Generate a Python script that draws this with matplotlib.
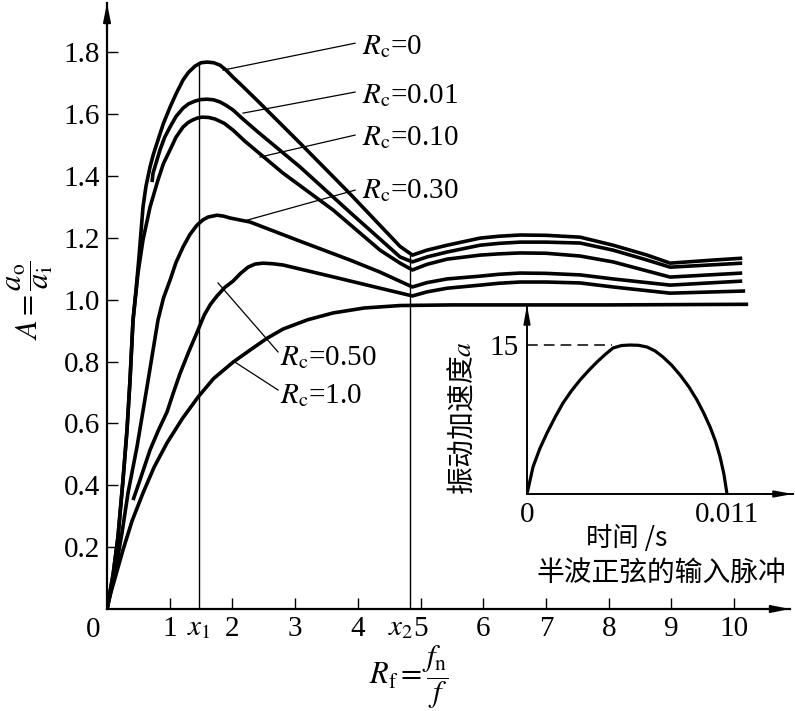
import numpy as np
import matplotlib
matplotlib.use('Agg')
import matplotlib.pyplot as plt

plt.rcParams['font.family'] = ['Liberation Serif', 'Noto Sans CJK SC']
plt.rcParams['mathtext.fontset'] = 'stix'

# response curves: Rf (x) -> A (y)
rc0_x = [0, 0.096, 0.175, 0.255, 0.319, 0.367, 0.415, 0.463, 0.510, 0.574, 0.62, 0.686, 0.74, 0.813, 0.90,
         1.005, 1.10, 1.212, 1.30, 1.404, 1.50, 1.595, 1.70, 1.802, 1.90, 2.010, 2.121, 2.40, 3.078, 3.876,
         4.354, 4.673, 4.87, 5.10, 5.423, 5.949, 6.25, 6.587, 7.00, 7.544, 8.070, 8.612, 8.979, 9.665, 10.128]
rc0_y = [0, 0.110, 0.233, 0.417, 0.579, 0.740, 0.934, 1.031, 1.138, 1.299, 1.365, 1.429, 1.47, 1.516, 1.57,
         1.622, 1.665, 1.710, 1.735, 1.755, 1.766, 1.768, 1.766, 1.758, 1.742, 1.719, 1.698, 1.643, 1.506, 1.342,
         1.240, 1.172, 1.144, 1.160, 1.176, 1.199, 1.205, 1.209, 1.208, 1.202, 1.176, 1.144, 1.118, 1.128, 1.134]

rc001_x = [0.718, 0.734, 0.845, 0.92, 1.005, 1.10, 1.212, 1.30, 1.404, 1.50, 1.595, 1.70, 1.802, 1.90, 2.010,
           2.15, 2.40, 3.078, 3.876, 4.673, 4.87, 5.10, 5.423, 5.949, 6.25, 6.587, 7.00, 7.544, 8.070, 8.612,
           8.979, 10.128]
rc001_y = [1.380, 1.409, 1.484, 1.525, 1.558, 1.592, 1.619, 1.633, 1.642, 1.647, 1.648, 1.646, 1.639, 1.628,
           1.613, 1.587, 1.543, 1.429, 1.282, 1.138, 1.122, 1.138, 1.154, 1.176, 1.182, 1.186, 1.186, 1.183,
           1.160, 1.128, 1.105, 1.118]

rc010_x = [0, 0.096, 0.175, 0.255, 0.319, 0.367, 0.415, 0.494, 0.574, 0.686, 0.813, 0.90, 1.005, 1.10, 1.212,
           1.29, 1.356, 1.44, 1.515, 1.62, 1.722, 1.87, 2.010, 2.20, 2.807, 3.604, 4.354, 4.673, 4.87,
           5.10, 5.423, 5.949, 6.25, 6.587, 7.00, 7.544, 8.070, 8.979, 10.128]
rc010_y = [0, 0.110, 0.233, 0.417, 0.579, 0.740, 0.934, 1.086, 1.193, 1.299, 1.387, 1.44, 1.484, 1.525, 1.558,
           1.572, 1.580, 1.587, 1.590, 1.589, 1.584, 1.570, 1.548, 1.512, 1.409, 1.290, 1.160, 1.118, 1.096,
           1.114, 1.131, 1.144, 1.148, 1.151, 1.150, 1.141, 1.122, 1.073, 1.086]

rc030_x = [0, 0.128, 0.239, 0.335, 0.478, 0.638, 0.813, 0.90, 1.005, 1.10, 1.212, 1.32, 1.435, 1.53, 1.611,
           1.754, 1.86, 1.962, 2.281, 3.078, 3.876, 4.354, 4.87, 5.10, 5.423, 5.949, 6.25, 6.587, 7.00, 7.544,
           8.070, 8.979, 10.128]
rc030_y = [0, 0.116, 0.246, 0.375, 0.524, 0.718, 0.934, 1.005, 1.063, 1.120, 1.170, 1.210, 1.241, 1.258, 1.267,
           1.273, 1.270, 1.264, 1.251, 1.189, 1.128, 1.089, 1.041, 1.055, 1.067, 1.076, 1.082, 1.086, 1.085,
           1.080, 1.067, 1.047, 1.060]

rc050_x = [0.415, 0.526, 0.686, 0.82, 0.957, 1.06, 1.164, 1.30, 1.435, 1.55, 1.65, 1.754, 1.88, 2.010, 2.13,
           2.249, 2.36, 2.488, 2.65, 2.807, 3.557, 4.354, 4.87, 5.10, 5.423, 5.949, 6.25, 6.587, 7.00, 7.544,
           8.070, 8.979, 10.175]
rc050_y = [0.352, 0.417, 0.514, 0.578, 0.637, 0.700, 0.761, 0.830, 0.894, 0.950, 0.985, 1.012, 1.040, 1.060,
           1.085, 1.105, 1.115, 1.118, 1.116, 1.112, 1.076, 1.037, 1.012, 1.025, 1.037, 1.047, 1.053, 1.057,
           1.057, 1.054, 1.041, 1.021, 1.028]

rc100_x = [0, 0.05, 0.128, 0.255, 0.40, 0.574, 0.75, 0.957, 1.20, 1.451, 1.70, 2.010, 2.281, 2.55, 2.807,
           3.20, 3.604, 4.10, 4.673, 5.50, 6.268, 8.00, 10.223]
rc100_y = [0, 0.045, 0.100, 0.191, 0.285, 0.375, 0.458, 0.537, 0.615, 0.685, 0.745, 0.798, 0.837, 0.875,
           0.905, 0.935, 0.957, 0.973, 0.981, 0.983, 0.983, 0.983, 0.985]

curves_x = [rc0_x, rc001_x, rc010_x, rc030_x, rc050_x, rc100_x]
curves_y = [rc0_y, rc001_y, rc010_y, rc030_y, rc050_y, rc100_y]
rc_labels = ['0', '0.01', '0.10', '0.30', '0.50', '1.0']

x_ticks = [1, 2, 3, 4, 5, 6, 7, 8, 9, 10]
y_ticks = [0.2, 0.4, 0.6, 0.8, 1.0, 1.2, 1.4, 1.6, 1.8]
x_marks = [1.47, 4.83]
x_mark_tops = [1.765, 1.144]
x_mark_labels = [r'$x_1$', r'$x_2$']

# half sine input pulse (inset)
pulse_t = [0, 0.00033, 0.00070, 0.00110, 0.00155, 0.00198, 0.00245, 0.00292, 0.00340, 0.00385, 0.00430,
           0.00473, 0.00520, 0.00567, 0.00615, 0.00660, 0.00705, 0.00748, 0.00795, 0.00842, 0.00890,
           0.00935, 0.00972, 0.01007, 0.01037, 0.01062, 0.01083, 0.011]
pulse_a = [0, 2.72, 4.55, 6.14, 7.75, 9.16, 10.40, 11.48, 12.45, 13.29, 14.05, 14.70, 14.95, 15.0, 14.97,
           14.80, 14.40, 13.79, 12.98, 11.98, 10.80, 9.46, 8.15, 6.75, 5.30, 3.72, 2.00, 0]
pulse_peak = 15
pulse_end = 0.011

fig = plt.figure(figsize=(7.95, 7.11), dpi=100)
ax = fig.add_axes([107/795, 1-609/711, 683/795, 606/711])
ax.set_xlim(0, 10.89)
ax.set_ylim(0, 1.959)
for s in ['top', 'right']:
    ax.spines[s].set_visible(False)
for s in ['left', 'bottom']:
    ax.spines[s].set_linewidth(1.6)

for cx, cy in zip(curves_x, curves_y):
    ax.plot(cx, cy, color='black', lw=2.6, solid_joinstyle='round', solid_capstyle='butt')

ax.vlines(x_marks, 0, x_mark_tops, color='black', lw=1.0)

ax.set_xticks(x_ticks)
ax.set_xticklabels([str(v) for v in x_ticks])
ax.set_yticks(y_ticks)
ax.set_yticklabels(['%.1f' % v for v in y_ticks])
ax.tick_params(direction='in', length=8, width=1.0, labelsize=21, pad=5)

ax.annotate('0', xy=(0, 0), xytext=(-14, -8), textcoords='offset pixels',
            ha='center', va='top', fontsize=21)
ax.annotate(x_mark_labels[0], xy=(x_marks[0], 0), xytext=(0, -6), textcoords='offset pixels',
            ha='center', va='top', fontsize=21)
ax.annotate(x_mark_labels[1], xy=(x_marks[1], 0), xytext=(3, -6), textcoords='offset pixels',
            ha='right', va='top', fontsize=21)

# axis arrows
ax.annotate('', xy=(0, 1.0), xytext=(0, 0.95), xycoords='axes fraction',
            arrowprops=dict(arrowstyle='-|>,head_length=1.1,head_width=0.22', color='black', lw=1.4,
                            shrinkA=0, shrinkB=0))
ax.annotate('', xy=(1.0, 0), xytext=(0.95, 0), xycoords='axes fraction',
            arrowprops=dict(arrowstyle='-|>,head_length=1.1,head_width=0.22', color='black', lw=1.4,
                            shrinkA=0, shrinkB=0))

# curve labels with leader lines
leader_from = [(1.850, 1.742), (2.169, 1.603), (2.440, 1.461), (2.233, 1.257), (1.770, 1.054), (2.041, 0.798)]
leader_to = [(3.955, 1.829), (3.955, 1.671), (3.955, 1.532), (3.955, 1.354), (2.727, 0.831), (2.727, 0.708)]
text_at = [(4.067, 1.826), (4.067, 1.668), (4.067, 1.532), (4.067, 1.361), (2.759, 0.821), (2.759, 0.698)]
for lab, p0, p1, tp in zip(rc_labels, leader_from, leader_to, text_at):
    ax.plot([p0[0], p1[0]], [p0[1], p1[1]], color='black', lw=0.9)
    ax.text(tp[0], tp[1], r'$R_\mathrm{c}$=' + lab, fontsize=21, ha='left', va='center_baseline')

fig.text(30/795, 1-300/711, r'$A=\dfrac{a_\mathrm{o}}{a_\mathrm{i}}$', rotation=90,
         ha='center', va='center', fontsize=22)
fig.text(409/795, 1-677/711, r'$R_\mathrm{f}=\dfrac{f_\mathrm{n}}{f}$',
         ha='center', va='center', fontsize=22)

# inset: input pulse
ax2 = fig.add_axes([527/795, 1-494/711, 266/795, 189/711])
ax2.set_facecolor('none')
ax2.set_xlim(0, 0.01463)
ax2.set_ylim(0, 19.03)
for s in ['top', 'right']:
    ax2.spines[s].set_visible(False)
for s in ['left', 'bottom']:
    ax2.spines[s].set_linewidth(1.4)
ax2.plot(pulse_t, pulse_a, color='black', lw=2.3, solid_joinstyle='round')
ax2.plot([0, 0.0047], [pulse_peak, pulse_peak], color='black', lw=1.1, dashes=(7, 4))
ax2.set_xticks([0, pulse_end])
ax2.set_xticklabels(['0', '0.011'])
ax2.set_yticks([pulse_peak])
ax2.set_yticklabels(['15'])
ax2.tick_params(length=0, labelsize=21, pad=6)
ax2.annotate('', xy=(0, 1.0), xytext=(0, 0.9), xycoords='axes fraction',
             arrowprops=dict(arrowstyle='-|>,head_length=1.1,head_width=0.2', color='black', lw=1.2,
                             shrinkA=0, shrinkB=0))
ax2.annotate('', xy=(1.0, 0), xytext=(0.9, 0), xycoords='axes fraction',
             arrowprops=dict(arrowstyle='-|>,head_length=1.1,head_width=0.2', color='black', lw=1.2,
                             shrinkA=0, shrinkB=0))
ax2.text(0.376, -0.233, '时间 /s', transform=ax2.transAxes, ha='center', va='center', fontsize=19,
         family=['Noto Sans CJK SC', 'Liberation Serif'])
ax2.text(0.504, -0.418, '半波正弦的输入脉冲', transform=ax2.transAxes, ha='center', va='center',
         fontsize=20, family=['Noto Sans CJK SC', 'Liberation Serif'])
ax2.text(-0.241, 0.402, '振动加速度$a$', transform=ax2.transAxes, ha='center', va='center',
         rotation=90, fontsize=20, family=['Noto Sans CJK SC', 'Liberation Serif'])

fig.savefig('out.png', dpi=100)
